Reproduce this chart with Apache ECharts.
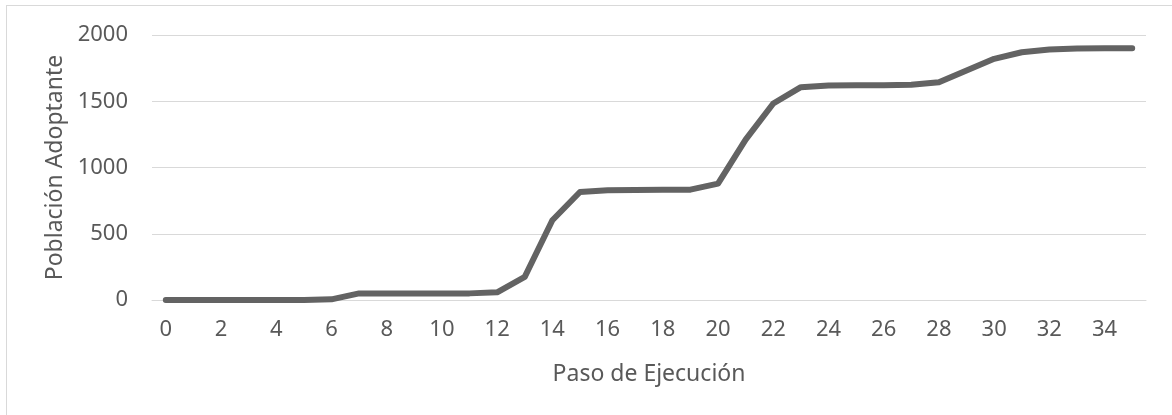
<!DOCTYPE html>
<html>
<head>
<meta charset="utf-8">
<script src="https://cdn.jsdelivr.net/npm/echarts@6/dist/echarts.min.js"></script>
<style>
  html, body { margin: 0; padding: 0; background: #fff; overflow: hidden; }
  #frame { position: absolute; left: 6px; top: 5px; width: 1200px; height: 440px;
           border-left: 1px solid #d9d9d9; border-top: 1px solid #d9d9d9; }
  #chart { position: absolute; left: 0; top: 0; width: 1172px; height: 415px; }
</style>
</head>
<body>
<div id="frame"></div>
<div id="chart"></div>
<script>
// Execution steps 0..35
const steps = Array.from({ length: 36 }, (_, i) => String(i));

// Adopting population at each step
const adopters = [
  0, 0, 0, 0, 0, 0, 5, 50, 50, 50,
  50, 50, 58, 175, 602, 815, 828, 830, 832, 833,
  878, 1210, 1483, 1606, 1619, 1620, 1621, 1624, 1644, 1732,
  1820, 1870, 1890, 1898, 1900, 1900
];

const yTicks = { min: 0, max: 2000, interval: 500 };
const xTitle = 'Paso de Ejecución';
const yTitle = 'Población Adoptante';

const textColor = '#595959';
const font = 'Noto Sans';

const chart = echarts.init(document.getElementById('chart'), null, { renderer: 'canvas' });
chart.setOption({
  animation: false,
  backgroundColor: 'transparent',
  grid: { left: 152, right: 26, top: 35, bottom: 115, containLabel: false },
  xAxis: {
    type: 'category',
    data: steps,
    boundaryGap: true,
    name: xTitle,
    nameLocation: 'middle',
    nameGap: 63,
    nameTextStyle: { color: textColor, fontFamily: font, fontSize: 23 },
    axisLine: { show: true, lineStyle: { color: '#d9d9d9', width: 1 } },
    axisTick: { show: false },
    axisLabel: { color: textColor, fontFamily: font, fontSize: 22, margin: 19, interval: 1 },
    splitLine: { show: false }
  },
  yAxis: {
    type: 'value',
    min: yTicks.min,
    max: yTicks.max,
    interval: yTicks.interval,
    name: yTitle,
    nameLocation: 'middle',
    nameGap: 77,
    nameRotate: 90,
    nameTextStyle: { color: textColor, fontFamily: font, fontSize: 23 },
    axisLine: { show: false },
    axisTick: { show: false },
    axisLabel: { color: textColor, fontFamily: font, fontSize: 22, margin: 24,
                 formatter: v => String(v) },
    splitLine: { lineStyle: { color: '#d9d9d9', width: 1 } }
  },
  series: [{
    type: 'line',
    data: adopters,
    showSymbol: false,
    symbol: 'none',
    lineStyle: { color: '#636363', width: 6, cap: 'round', join: 'round' },
    itemStyle: { color: '#636363' }
  }]
});
</script>
</body>
</html>
